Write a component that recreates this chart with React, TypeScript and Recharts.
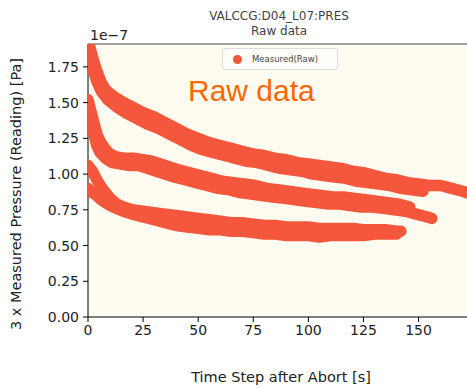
import { ScatterChart, Scatter, XAxis, YAxis, ZAxis, CartesianGrid, ReferenceLine, Legend } from "recharts"

// time after abort [s], pressure [1e-7 Pa]
const topA: Array<[number, number]> = [
  [0.5, 1.91], [1.5, 1.85], [3, 1.77], [4.5, 1.7], [6, 1.64], [8, 1.59], [11, 1.55], [15, 1.51],
  [20, 1.47], [25, 1.43], [30, 1.4], [35, 1.36], [40, 1.32], [45, 1.28], [50, 1.25], [55, 1.22],
  [60, 1.2], [65, 1.18], [70, 1.16], [75, 1.14], [80, 1.13], [85, 1.11], [90, 1.1], [95, 1.08],
  [100, 1.07], [105, 1.06], [110, 1.05], [115, 1.04], [120, 1.02], [125, 1.01], [130, 0.99],
  [135, 0.97], [140, 0.96], [145, 0.94], [150, 0.93], [155, 0.92], [160, 0.92], [165, 0.9],
  [170, 0.88], [174, 0.86],
]
const topB: Array<[number, number]> = [
  [1, 1.8], [2.5, 1.72], [4, 1.65], [6, 1.58], [9, 1.52], [13, 1.47], [17, 1.43], [22, 1.39],
  [27, 1.35], [32, 1.32], [37, 1.28], [42, 1.24], [47, 1.2], [52, 1.17], [57, 1.15], [62, 1.13],
  [67, 1.11], [72, 1.09], [77, 1.08], [82, 1.06], [87, 1.04], [92, 1.03], [97, 1.02], [102, 1.0],
  [107, 0.99], [112, 0.98], [117, 0.97], [122, 0.95], [127, 0.94], [132, 0.93], [137, 0.92],
  [142, 0.9], [147, 0.89], [152, 0.88],
]
const midA: Array<[number, number]> = [
  [0, 1.52], [1, 1.46], [2, 1.4], [3, 1.34], [4, 1.28], [5.5, 1.23], [7.5, 1.18], [10, 1.14],
  [13, 1.12], [17, 1.11], [21, 1.11], [25, 1.1], [29, 1.09], [33, 1.07], [37, 1.05], [41, 1.03],
  [46, 1.01], [51, 0.99], [56, 0.97], [61, 0.95], [66, 0.94], [71, 0.93], [76, 0.92], [81, 0.9],
  [86, 0.89], [91, 0.88], [96, 0.87], [101, 0.86], [106, 0.85], [111, 0.84], [116, 0.84],
  [121, 0.83], [126, 0.82], [131, 0.81], [136, 0.8], [141, 0.79], [146, 0.77],
]
const midB: Array<[number, number]> = [
  [2, 1.33], [3, 1.26], [4, 1.2], [5.5, 1.15], [8, 1.11], [11, 1.08], [15, 1.07], [19, 1.06],
  [23, 1.06], [27, 1.04], [31, 1.02], [35, 1.0], [39, 0.98], [44, 0.96], [49, 0.94], [54, 0.92],
  [59, 0.9], [64, 0.89], [69, 0.87], [74, 0.86], [79, 0.85], [84, 0.84], [89, 0.83], [94, 0.82],
  [99, 0.81], [104, 0.8], [109, 0.79], [114, 0.79], [119, 0.78], [124, 0.77], [129, 0.77],
  [134, 0.76], [139, 0.75], [144, 0.74], [149, 0.72], [154, 0.7], [156, 0.69],
]
const lowC: Array<[number, number]> = [
  [0, 1.06], [2, 1.02], [4, 0.96], [6, 0.91], [8, 0.87], [10, 0.83], [13, 0.79], [16, 0.77],
  [20, 0.75], [25, 0.74], [30, 0.73], [35, 0.72], [40, 0.71], [45, 0.7], [50, 0.69], [55, 0.68],
  [60, 0.67], [65, 0.66], [70, 0.66], [75, 0.65], [80, 0.64], [85, 0.64], [90, 0.63], [95, 0.63],
  [100, 0.63], [105, 0.62], [110, 0.62], [115, 0.62], [120, 0.62], [125, 0.61], [130, 0.61],
  [135, 0.61], [140, 0.6], [142, 0.6],
]
const lowD: Array<[number, number]> = [
  [0, 0.9], [2, 0.87], [4, 0.85], [6, 0.82], [8, 0.8], [10, 0.78], [13, 0.76], [16, 0.74],
  [20, 0.72], [25, 0.7], [30, 0.68], [35, 0.66], [40, 0.64], [45, 0.63], [50, 0.62], [55, 0.61],
  [60, 0.61], [65, 0.6], [70, 0.6], [75, 0.59], [80, 0.58], [85, 0.58], [90, 0.57], [95, 0.57],
  [100, 0.57], [105, 0.56], [110, 0.57], [115, 0.57], [120, 0.57], [125, 0.57], [130, 0.58],
  [135, 0.58], [140, 0.58],
]

const runs = [topA, topB, midA, midB, lowC, lowD]
const xTicks = [0, 25, 50, 75, 100, 125, 150]
const yTicks = [0, 0.25, 0.5, 0.75, 1.0, 1.25, 1.5, 1.75]
const yMax = 1.91
const xMax = 172

const RED = "#f5573c"
const FONT = "'DejaVu Sans', sans-serif"

const toPoints = (rows: Array<[number, number]>) => rows.map(([t, p]) => ({ t, p }))

function LegendBox() {
  return (
    <div
      style={{
        width: 114,
        height: 20,
        border: "1px solid #ddd",
        borderRadius: 2,
        background: "#fffef8",
        display: "flex",
        alignItems: "center",
        fontFamily: FONT,
        fontSize: 8.5,
        color: "#444",
      }}
    >
      <span style={{ width: 9, height: 9, borderRadius: "50%", background: RED, marginLeft: 10, marginRight: 10 }} />
      Measured(Raw)
    </div>
  )
}

export default function App() {
  return (
    <div style={{ position: "absolute", left: 0, top: 0, width: 467, height: 388, background: "#fff", overflow: "hidden" }}>
      <ScatterChart width={467} height={388} margin={{ top: 44, right: 0, bottom: 24, left: 28 }}>
        <CartesianGrid fill="#fefcf0" stroke="none" horizontal={false} vertical={false} />
        <XAxis
          type="number"
          dataKey="t"
          domain={[0, xMax]}
          ticks={xTicks}
          allowDataOverflow
          height={25}
          tickSize={5}
          tickMargin={3}
          stroke="#000"
          tick={{ fill: "#222", fontSize: 14, fontFamily: FONT }}
        />
        <YAxis
          type="number"
          dataKey="p"
          domain={[0, yMax]}
          ticks={yTicks}
          allowDataOverflow
          width={60}
          tickSize={5}
          tickMargin={4}
          stroke="#000"
          tickFormatter={(v: number) => v.toFixed(2)}
          tick={{ fill: "#222", fontSize: 14, fontFamily: FONT }}
        />
        <ZAxis range={[110, 110]} />
        <ReferenceLine y={yMax} stroke="#444" ifOverflow="visible" />
        {runs.map((r, i) => (
          <Scatter
            key={i}
            name="Measured(Raw)"
            data={toPoints(r)}
            fill={RED}
            line={{ stroke: RED, strokeWidth: 11.5, strokeLinejoin: "round", strokeLinecap: "round" }}
            lineType="joint"
            shape="circle"
            isAnimationActive={false}
          />
        ))}
        <Legend content={<LegendBox />} wrapperStyle={{ position: "absolute", left: 222, top: 48, width: 116 }} />
      </ScatterChart>

      <div style={{ position: "absolute", left: 0, width: 558, top: 9, textAlign: "center", fontFamily: FONT, fontSize: 12, color: "#444", lineHeight: "15px" }}>
        VALCCG:D04_L07:PRES
        <br />
        Raw data
      </div>
      <div style={{ position: "absolute", left: 90, top: 27, fontFamily: FONT, fontSize: 14, color: "#222" }}>1e−7</div>
      <div style={{ position: "absolute", left: 188, top: 74, fontFamily: "'Liberation Sans', Arial, sans-serif", fontSize: 30, color: "#ff6600" }}>
        Raw data
      </div>
      <div style={{ position: "absolute", left: 0, width: 562, top: 369, textAlign: "center", fontFamily: FONT, fontSize: 14.5, color: "#222" }}>
        Time Step after Abort [s]
      </div>
      <div
        style={{
          position: "absolute",
          left: 16,
          top: 194,
          transform: "translate(-50%, -50%) rotate(-90deg)",
          whiteSpace: "nowrap",
          fontFamily: FONT,
          fontSize: 14.5,
          color: "#222",
        }}
      >
        3 x Measured Pressure (Reading) [Pa]
      </div>
    </div>
  )
}
